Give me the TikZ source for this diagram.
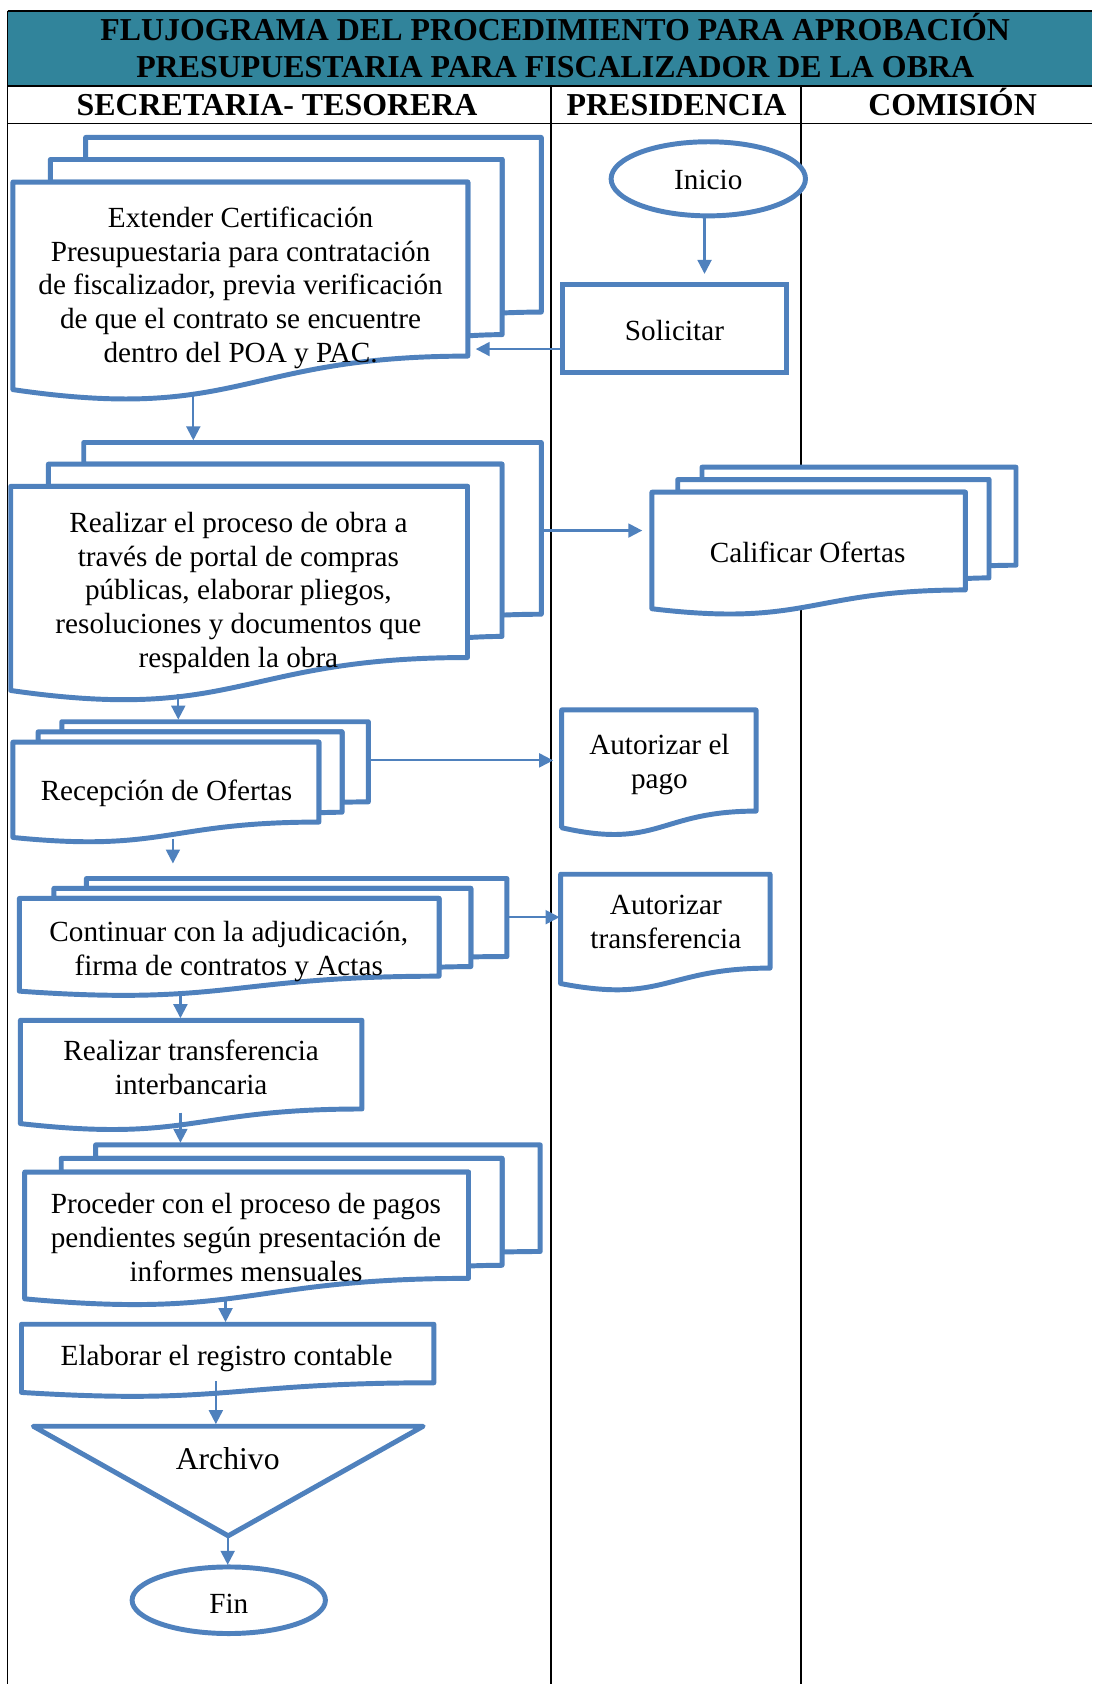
\documentclass[tikz,border=0pt]{standalone}
\usepackage{fontspec}
\setmainfont{Liberation Serif}
\usetikzlibrary{arrows.meta,shapes.geometric}
\definecolor{flowblue}{RGB}{79,129,189}
\definecolor{bandteal}{RGB}{49,132,155}

% Stack of three documents (Word "multidocument"), box given as left, top, width, height
\newcommand{\docstack}[4]{%
  \begin{scope}[shift={(#1,#2)}, xscale=#3/216, yscale=#4/216]
    \path[boxline] (29.72,18.15) -- (29.72,0) -- (216,0) -- (216,143.92)
      .. controls (208,143.92) and (200,144.67) .. (200,144.67) -- (200,18.15) -- cycle;
    \path[boxline] (15.32,36.75) -- (15.32,18.15) -- (200,18.15) -- (200,162.52)
      .. controls (192.98,162.52) and (185.95,163.52) .. (185.95,163.52) -- (185.95,36.75) -- cycle;
    \path[boxline] (0,207.82) .. controls (92.98,235.42) and (92.98,180.22) .. (185.95,180.22)
      -- (185.95,36.75) -- (0,36.75) -- cycle;
  \end{scope}}

% Single document with wavy lower edge
\newcommand{\onedoc}[4]{%
  \begin{scope}[shift={(#1,#2)}, xscale=#3/216, yscale=#4/216]
    \path[boxline] (0,0) -- (216,0) -- (216,173.22)
      .. controls (108,173.22) and (108,239.22) .. (0,201.72) -- cycle;
  \end{scope}}

\begin{document}
\begin{tikzpicture}[x=1pt, y=-1pt,
  boxline/.style={draw=flowblue, line width=4.6pt, fill=white, line join=round},
  tableline/.style={draw=black, line width=1.6pt},
  flowarrow/.style={draw=flowblue, line width=2pt, -{Triangle[length=13pt,width=13pt]}},
  steptext/.style={font=\fontsize{27.2}{31.5}\selectfont, align=center, inner sep=0pt},
  headtext/.style={font=\bfseries\fontsize{29.7}{34}\selectfont, inner sep=0pt, anchor=base},
  terminal/.style={draw=flowblue, line width=4.6pt, fill=white, ellipse, inner sep=0pt},
  procbox/.style={draw=flowblue, line width=4.6pt, fill=white, rectangle, inner sep=0pt}]

\useasboundingbox (0,0) rectangle (1017,1568);
\fill[white] (0,0) rectangle (1017,1568);

% ---- table: title band, lane headers and lane dividers ----
\fill[bandteal] (7,10) rectangle (1017,80);
\draw[tableline] (7,10) -- (1017,10);
\draw[tableline] (7,80) -- (1017,80);
\draw[tableline] (7,115) -- (1017,115);
\draw[tableline] (7,10) -- (7,1568);
\draw[tableline] (513,80) -- (513,1568);
\draw[tableline] (746,80) -- (746,1568);

\node[headtext] (title1) at (517,37.8) {FLUJOGRAMA DEL PROCEDIMIENTO PARA APROBACIÓN};
\node[headtext] (title2) at (517,71.8) {PRESUPUESTARIA PARA FISCALIZADOR DE LA OBRA};
\node[headtext] (lane1) at (258,107.8) {SECRETARIA- TESORERA};
\node[headtext] (lane2) at (630,107.8) {PRESIDENCIA};
\node[headtext] (lane3) at (887,107.8) {COMISIÓN};

% ---- shape outlines ----
\docstack{12}{128}{492}{244}
\docstack{10}{412}{494}{240}
\docstack{607}{435}{339}{137}
\docstack{12}{672}{331}{112}
\docstack{18}{818}{454}{109}
\docstack{23}{1066}{480}{149}
\onedoc{523}{661}{181}{117.5}
\onedoc{522}{814}{195}{109}
\onedoc{19}{950}{318}{103}
\onedoc{20}{1233}{384}{68}
\path[boxline] (31,1328) -- (394,1328) -- (212.5,1430) -- cycle;

\node[terminal, minimum width=181pt, minimum height=69pt] (inicio) at (659.5,166.5) {};
\node[procbox, minimum width=208pt, minimum height=82pt] (solicitar) at (628,306) {};
\node[terminal, minimum width=180pt, minimum height=62pt] (fin) at (213,1490) {};

% ---- texts ----
\node[steptext] (inicio-text) at (inicio) [yshift=-1pt] {Inicio};
\node[steptext] (solicitar-text) at (solicitar) [yshift=-2pt] {Solicitar};
\node[steptext] (fin-text) at (fin) [yshift=-3pt] {Fin};
\node[steptext] (extender) at (224,268) {Extender Certificación\\Presupuestaria para contratación\\de fiscalizador, previa verificación\\de que el contrato se encuentre\\dentro del POA y PAC.};
\node[steptext] (proceso) at (222,552) {Realizar el proceso de obra a\\través de portal de compras\\públicas, elaborar pliegos,\\resoluciones y documentos que\\respalden la obra};
\node[steptext] (calificar) at (752,514) {Calificar Ofertas};
\node[steptext] (recepcion) at (155,739) {Recepción de Ofertas};
\node[steptext] (pago) at (614,712) {Autorizar el\\pago};
\node[steptext] (continuar) at (213,886) {Continuar con la adjudicación,\\firma de contratos y Actas};
\node[steptext] (autransf) at (620,858.5) {Autorizar\\transferencia};
\node[steptext] (transf) at (178,993.5) {Realizar transferencia\\interbancaria};
\node[steptext] (proceder) at (229,1152) {Proceder con el proceso de pagos\\pendientes según presentación de\\informes mensuales};
\node[steptext] (registro) at (211,1265) {Elaborar el registro contable};
\node[steptext, font=\fontsize{29.5}{34}\selectfont] (archivo) at (212,1358) {Archivo};

% ---- connector end points ----
\coordinate (inicio-out) at (656,203);
\coordinate (solicitar-in) at (656,255);
\coordinate (solicitar-out) at (522,325);
\coordinate (extender-in) at (443,325);
\coordinate (extender-out) at (180,366);
\coordinate (proceso-in) at (180,410);
\coordinate (proceso-right) at (504,494);
\coordinate (calificar-in) at (598,494);
\coordinate (proceso-out) at (166,646);
\coordinate (recepcion-in) at (166,670);
\coordinate (recepcion-right) at (343,708);
\coordinate (pago-in) at (515,708);
\coordinate (recepcion-out) at (161,781);
\coordinate (continuar-in) at (161,804);
\coordinate (continuar-right) at (472,854);
\coordinate (autransf-in) at (521,854);
\coordinate (continuar-out) at (168,924);
\coordinate (transf-in) at (168,948);
\coordinate (transf-out) at (168,1036);
\coordinate (proceder-in) at (168,1064);
\coordinate (proceder-out) at (210,1210);
\coordinate (registro-in) at (210,1231);
\coordinate (registro-out) at (201,1286);
\coordinate (archivo-in) at (201,1326);
\coordinate (archivo-out) at (212,1428);
\coordinate (fin-in) at (212,1457);

% ---- connectors ----
\draw[flowarrow] (inicio-out) -- (solicitar-in);
\draw[flowarrow] (solicitar-out) -- (extender-in);
\draw[flowarrow] (extender-out) -- (proceso-in);
\draw[flowarrow] (proceso-right) -- (calificar-in);
\draw[flowarrow] (proceso-out) -- (recepcion-in);
\draw[flowarrow] (recepcion-right) -- (pago-in);
\draw[flowarrow] (recepcion-out) -- (continuar-in);
\draw[flowarrow] (continuar-right) -- (autransf-in);
\draw[flowarrow] (continuar-out) -- (transf-in);
\draw[flowarrow] (transf-out) -- (proceder-in);
\draw[flowarrow] (proceder-out) -- (registro-in);
\draw[flowarrow] (registro-out) -- (archivo-in);
\draw[flowarrow] (archivo-out) -- (fin-in);
\end{tikzpicture}
\end{document}
